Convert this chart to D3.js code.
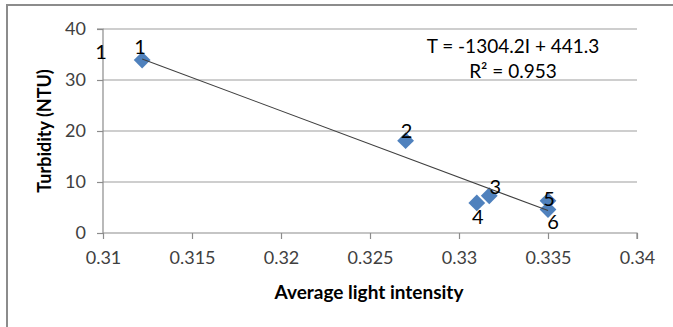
<!DOCTYPE html>
<html><head><meta charset="utf-8">
<script src="https://cdn.jsdelivr.net/npm/d3@7"></script>
<style>body{margin:0;background:#fff;} svg{display:block;}</style>
</head><body>
<svg id="c" width="673" height="327"></svg>
<script>
const pointLabels = ["1","2","3","4","5","6"];
const intensity = [0.3122, 0.3270, 0.3317, 0.3310, 0.3350, 0.3350];
const turbidity = [33.9, 18.1, 7.3, 5.9, 6.3, 4.6];
const xTicks = [0.31,0.315,0.32,0.325,0.33,0.335,0.34];
const yTicks = [0,10,20,30,40];
const slope = -1304.2, intercept = 441.3;
const eqText = "T = -1304.2I + 441.3";
const r2Text = "R² = 0.953";
const labelOffsets = [[-2,-6],[1,-3],[6,-2],[1,21],[1,5],[5,19]];

const svg = d3.select("#c");
const font = "Lato, 'Open Sans', sans-serif";
const x = d3.scaleLinear().domain([0.31,0.34]).range([103,637]);
const y = d3.scaleLinear().domain([0,40]).range([233,29]);

svg.append("path").attr("d","M7,327 V5 H673").attr("fill","none").attr("stroke","#8c8c8c").attr("stroke-width",2);

svg.append("g").selectAll("line").data(yTicks.filter(d=>d>0)).join("line")
  .attr("x1",103).attr("x2",637).attr("y1",d=>y(d)).attr("y2",d=>y(d))
  .attr("stroke","#bebebe").attr("stroke-width",1.3);

const xAxis = d3.axisBottom(x).tickValues(xTicks).tickFormat(d=>String(+d.toFixed(3))).tickSize(6).tickPadding(12);
const gx = svg.append("g").attr("transform",`translate(0,${y(0)})`).call(xAxis);
const yAxis = d3.axisLeft(y).tickValues(yTicks).tickSize(6).tickPadding(11);
const gy = svg.append("g").attr("transform",`translate(${x(0.31)},0)`).call(yAxis);
[gx,gy].forEach(g=>{
  g.selectAll("path.domain").attr("stroke","#8c8c8c").attr("stroke-width",1.2);
  g.selectAll(".tick line").attr("stroke","#8c8c8c").attr("stroke-width",1.2);
  g.selectAll("text").attr("font-family",font).attr("font-size",18).attr("fill","#404040");
});
gy.select("path.domain").attr("d",`M-6,${y(40)}H0V${y(0)}`);
gx.select("path.domain").attr("d",`M${x(0.31)},0H${x(0.34)}V6`);

const xmin = d3.min(intensity), xmax = d3.max(intensity);
const data = intensity.map((v,i)=>({x:v,y:turbidity[i],l:pointLabels[i],o:labelOffsets[i]}));
svg.append("g").selectAll("path").data(data).join("path")
  .attr("d",d3.symbol().type(d3.symbolDiamond2).size(180))
  .attr("transform",d=>`translate(${x(d.x)},${y(d.y)})`)
  .attr("fill","#4f81bd");

svg.append("line")
  .attr("x1",x(xmin)).attr("y1",y(slope*xmin+intercept))
  .attr("x2",x(xmax)).attr("y2",y(slope*xmax+intercept))
  .attr("stroke","#404040").attr("stroke-width",1.1);

svg.append("g").selectAll("text").data(data).join("text")
  .attr("x",d=>x(d.x)+d.o[0]).attr("y",d=>y(d.y)+d.o[1])
  .attr("text-anchor","middle").attr("font-family",font).attr("font-size",20).attr("fill","#000")
  .text(d=>d.l);
svg.append("text").attr("x",101).attr("y",59).attr("text-anchor","middle")
  .attr("font-family",font).attr("font-size",20).attr("fill","#000").text(pointLabels[0]);

svg.append("text").attr("x",513).attr("y",53).attr("text-anchor","middle")
  .attr("font-family",font).attr("font-size",19).attr("fill","#000").text(eqText);
svg.append("text").attr("x",513).attr("y",78).attr("text-anchor","middle")
  .attr("font-family",font).attr("font-size",19).attr("fill","#000").text(r2Text);

svg.append("text").attr("x",369).attr("y",299).attr("text-anchor","middle")
  .attr("font-family",font).attr("font-size",19).attr("font-weight","bold").attr("fill","#000")
  .text("Average light intensity");
svg.append("text").attr("transform","translate(51,131) rotate(-90)").attr("text-anchor","middle")
  .attr("font-family",font).attr("font-size",18).attr("font-weight","bold").attr("fill","#000")
  .text("Turbidity (NTU)");
</script>
</body></html>
